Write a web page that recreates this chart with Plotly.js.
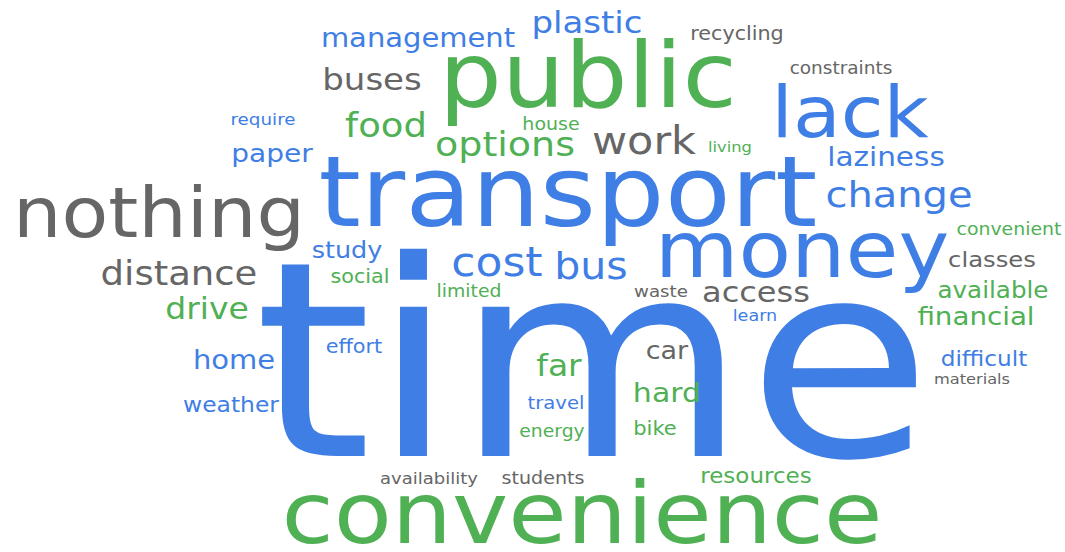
<!DOCTYPE html>
<html>
<head>
<meta charset="utf-8">
<script src="https://cdn.plot.ly/plotly-3.0.1.min.js"></script>
<style>
html,body{margin:0;padding:0;background:#fff;}
#chart{width:1065px;height:552px;}
/* the reference face is a wide geometric sans: widen the installed face a little */
#chart .textpoint text{transform-box:fill-box;transform-origin:center;transform:scaleX(1.1);}
</style>
</head>
<body>
<div id="chart"></div>
<script>
// Word cloud data: word, weight (font size), placement (x centre, baseline y in canvas units), colour group
const words = ["time","convenience","transport","public","money","nothing","lack","cost","bus","work",
  "change","options","food","distance","buses","plastic","drive","far","access","hard",
  "laziness","management","home","paper","car","study","classes","weather","resources","available",
  "financial","difficult","materials","convenient","recycling","constraints","require","house","living","social",
  "limited","waste","learn","effort","travel","energy","bike","availability","students"];
const weights = [300,95,108,99,86,76.5,78,44,41,43,
  40,38,37,37,34,34,33,33,32,30,
  29.5,29,29,28,27,25.5,24.3,23.4,23,24.6,
  27.7,23.2,16.2,18.9,20.7,18.5,18.3,19,16.3,20.7,
  18.8,18.2,17.6,20.8,19.6,18.8,21,18,19.1];
const posX = [593,582,568,588,802,159,850,497,591,644,
  899,505,386,179,372,587,207,559,756,667,
  886,418,234,272,667,347,992,231,756,993,
  976,984,972,1009,737,841,263,551,730,360,
  469,661,755,354,556,552,655,429,543];
const baseY = [460,544,227,108,278,238,138,277,280,155,
  208,157,138,286,90,33,319,376,302,402,
  166,47,369,162,359,258,267,412,483,298,
  325,366,384,235,40,74,125,130,152,283,
  297,297,321,353,409,437,435,484,484];
const group = ["b","g","b","g","b","k","b","b","b","k",
  "b","g","g","k","k","b","g","g","k","g",
  "b","b","b","b","k","b","k","b","g","g",
  "g","b","k","g","k","k","b","g","g","g",
  "g","k","b","b","b","g","g","k","k"];

const palette = {b:"#3f7ee4", g:"#4fb054", k:"#666666"};
const STRETCH = 1.1;       // horizontal widening applied in CSS
const BASE_SHIFT = 0.265;  // baseline offset below the text centre, in em

const sizes = weights.map(w => w / STRETCH);
const textTrace = {
  type: "scatter", mode: "text",
  x: posX,
  y: baseY.map((b, i) => b - BASE_SHIFT * sizes[i]),
  text: words,
  textposition: "middle center",
  textfont: {family: "DejaVu Sans", size: sizes, color: group.map(g => palette[g])},
  hoverinfo: "text",
  cliponaxis: false,
  showlegend: false
};

const layout = {
  width: 1065, height: 552,
  margin: {l: 0, r: 0, t: 0, b: 0},
  paper_bgcolor: "#ffffff", plot_bgcolor: "#ffffff",
  xaxis: {range: [0, 1065], visible: false, fixedrange: true},
  yaxis: {range: [552, 0], visible: false, fixedrange: true},
  showlegend: false
};
Plotly.newPlot("chart", [textTrace], layout, {displayModeBar: false, staticPlot: true});
</script>
</body>
</html>
